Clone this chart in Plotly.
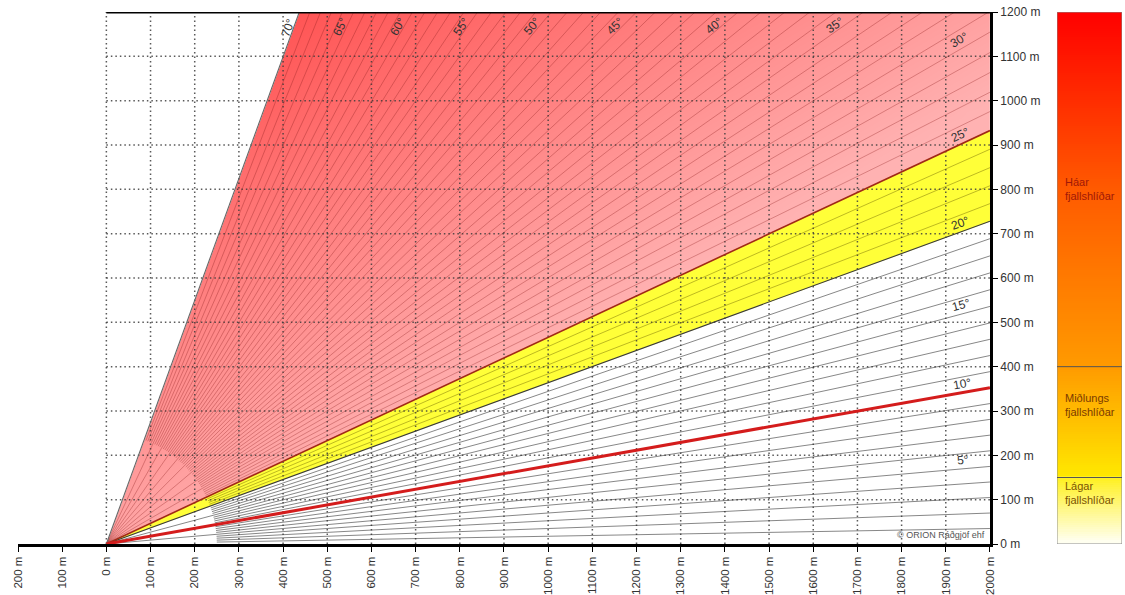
import math
import numpy as np
import plotly.graph_objects as go

# ---------------- data ----------------
x_ticks = list(range(-200, 2001, 100))
x_tick_text = [f"{abs(v)} m" for v in x_ticks]
y_ticks = list(range(0, 1201, 100))
y_tick_text = [f"{v} m" for v in y_ticks]
grid_x = list(range(0, 2000, 100))
grid_y = list(range(100, 1200, 100))
slope_angles = list(range(1, 71))                 # radial slope lines (degrees)
major_angles = list(range(5, 71, 5))              # lines drawn from the origin
top_label_angles = [70, 65, 60, 55, 50, 45, 40, 35]
side_label_angles = [30, 25, 20, 15, 10, 5]
zone_mid = (20, 25)      # yellow
zone_high = (25, 70)     # red
highlight_angle = 10
X_MAX, Y_MAX = 2000, 1200
minor_start_r = 250
legend_bounds = [0, 150, 400, 1200]
legend_names = ["Lágar<br>fjallshlíðar", "Miðlungs<br>fjallshlíðar", "Háar<br>fjallshlíðar"]
legend_label_y = [115, 313, 800]
legend_label_colors = ["#7a5200", "#7a3a00", "#a01808"]
copyright_text = "© ORION Ráðgjöf ehf"

# style: linear colour ramp of the red zone (green/blue channel level)
RAMP_C0, RAMP_CX, RAMP_CY = 165.0, 0.049, -0.085
RAMP_MIN, RAMP_MAX = 82, 178


def edge_point(deg):
    t = math.tan(math.radians(deg))
    if X_MAX * t <= Y_MAX:
        return X_MAX, X_MAX * t
    return Y_MAX / t, Y_MAX


def wedge(a1, a2):
    corner = math.degrees(math.atan2(Y_MAX, X_MAX))
    xs, ys = [0], [0]
    p = edge_point(a1); xs.append(p[0]); ys.append(p[1])
    if a1 < corner < a2:
        xs.append(X_MAX); ys.append(Y_MAX)
    p = edge_point(a2); xs.append(p[0]); ys.append(p[1])
    xs.append(0); ys.append(0)
    return xs, ys


fig = go.Figure()

# legend gradient bar (right)
lev = np.linspace(0, 1200, 241)
fig.add_trace(go.Heatmap(
    x=[0, 1], y=lev, z=[[v, v] for v in lev], xaxis="x2", yaxis="y",
    zmin=0, zmax=1200, showscale=False, hoverinfo="skip",
    colorscale=[[0, "#fffff6"], [0.06, "#fff890"], [0.125, "#fff020"],
                [0.126, "#ffe800"], [0.333, "#ff9a00"], [0.667, "#ff5a00"], [1, "#ff0000"]]))

# red zone background ramp
gxs = np.linspace(0, X_MAX, 81)
gys = np.linspace(0, Y_MAX, 49)
GX, GY = np.meshgrid(gxs, gys)
ramp = np.clip(RAMP_C0 + RAMP_CX * GX + RAMP_CY * GY, RAMP_MIN, RAMP_MAX)
fig.add_trace(go.Heatmap(
    x=gxs, y=gys, z=ramp, zmin=RAMP_MIN, zmax=RAMP_MAX, zsmooth="best", showscale=False,
    hoverinfo="skip",
    colorscale=[[0, f"rgb(255,{RAMP_MIN},{RAMP_MIN})"], [1, f"rgb(255,{RAMP_MAX},{RAMP_MAX})"]]))

# white masks outside the red zone (above the steepest line, below the yellow zone)
ex, ey = edge_point(zone_high[1])
fig.add_trace(go.Scatter(x=[0, ex, ex, -60, -60, 0], y=[0, ey, Y_MAX + 40, Y_MAX + 40, -40, 0],
                         mode="lines", fill="toself", fillcolor="white",
                         line=dict(color="white", width=1), hoverinfo="skip", showlegend=False))
ex, ey = edge_point(zone_mid[0])
fig.add_trace(go.Scatter(x=[0, ex, X_MAX + 60, X_MAX + 60, -60, -60, 0],
                         y=[0, ey, ey, -40, -40, 0, 0], mode="lines",
                         fill="toself", fillcolor="white", line=dict(color="white", width=1),
                         hoverinfo="skip", showlegend=False))
# yellow wedge
xs, ys = wedge(*zone_mid)
fig.add_trace(go.Scatter(x=xs, y=ys, mode="lines", fill="toself", fillcolor="#ffff38",
                         line=dict(color="#ffff38", width=0.6), hoverinfo="skip", showlegend=False))

# dotted grid
gx, gy = [], []
for v in grid_x:
    gx += [v, v, None]; gy += [0, Y_MAX, None]
for v in grid_y:
    gx += [0, X_MAX, None]; gy += [v, v, None]
fig.add_trace(go.Scatter(x=gx, y=gy, mode="lines", hoverinfo="skip", showlegend=False,
                         line=dict(color="rgba(60,60,60,0.85)", width=1.5, dash="1.5px,3px")))

# radial slope lines
zones = {"low": ([], [], "rgba(50,50,50,0.65)"),
         "mid": ([], [], "rgba(110,100,0,0.5)"),
         "high": ([], [], "rgba(140,30,30,0.38)")}
for a in slope_angles:
    if a in (zone_mid[0], zone_high[0], zone_high[1], highlight_angle):
        continue
    key = "low" if a < zone_mid[0] else ("mid" if a < zone_high[0] else "high")
    r0 = 0 if a in major_angles else minor_start_r
    ex, ey = edge_point(a)
    sx = r0 * math.cos(math.radians(a)); sy = r0 * math.sin(math.radians(a))
    zones[key][0].extend([sx, ex, None]); zones[key][1].extend([sy, ey, None])
for key, (lx, ly, col) in zones.items():
    fig.add_trace(go.Scatter(x=lx, y=ly, mode="lines", hoverinfo="skip", showlegend=False,
                             line=dict(color=col, width=0.9)))

# boundary & highlight lines
for a, col, w in [(zone_mid[0], "#3a3a3a", 1.1), (zone_high[0], "#a02818", 1.6),
                  (zone_high[1], "#666666", 1.1), (highlight_angle, "#d41c1c", 3)]:
    ex, ey = edge_point(a)
    fig.add_trace(go.Scatter(x=[0, ex], y=[0, ey], mode="lines", hoverinfo="skip",
                             showlegend=False, line=dict(color=col, width=w)))

# top border
fig.add_trace(go.Scatter(x=[0, X_MAX], y=[Y_MAX, Y_MAX], mode="lines", hoverinfo="skip",
                         showlegend=False, line=dict(color="black", width=3)))

annotations = []
for a in top_label_angles:
    s, c = math.sin(math.radians(a)), math.cos(math.radians(a))
    y = 1160; x = y / math.tan(math.radians(a))
    annotations.append(dict(x=x - 12 * s, y=y + 12 * c, text=f"{a}°", showarrow=False,
                            textangle=-a, font=dict(size=12, color="#333"),
                            xanchor="center", yanchor="middle"))
for a in side_label_angles:
    s, c = math.sin(math.radians(a)), math.cos(math.radians(a))
    x = 1940; y = x * math.tan(math.radians(a))
    annotations.append(dict(x=x - 20 * s, y=y + 20 * c, text=f"{a}°", showarrow=False,
                            textangle=-a, font=dict(size=12, color="#333"),
                            xanchor="center", yanchor="middle"))
annotations.append(dict(x=X_MAX, y=0, xshift=-3, yshift=2, text=copyright_text, showarrow=False,
                        xanchor="right", yanchor="bottom", font=dict(size=9, color="#555")))
for name, yy, col in zip(legend_names, legend_label_y, legend_label_colors):
    annotations.append(dict(x=0.1, y=yy, xref="x2", yref="y", text=name, showarrow=False,
                            xanchor="left", yanchor="middle", align="left",
                            font=dict(size=11, color=col)))

shapes = [dict(type="rect", xref="x2", yref="y", x0=0, x1=1, y0=legend_bounds[0],
               y1=legend_bounds[-1], line=dict(color="#8a8a8a", width=1))]
for b in legend_bounds[1:-1]:
    shapes.append(dict(type="line", xref="x2", yref="y", x0=0, x1=1, y0=b, y1=b,
                       line=dict(color="#555", width=1)))

tickfont = dict(family="Liberation Sans, Arial, sans-serif", size=12, color="#333")
xtickfont = dict(family="Liberation Sans, Arial, sans-serif", size=11.5, color="#333")
fig.update_layout(
    width=1125, height=595, margin=dict(l=18, r=3, t=12, b=51),
    paper_bgcolor="white", plot_bgcolor="white", showlegend=False,
    font=dict(family="Liberation Sans, Arial, sans-serif"),
    xaxis=dict(domain=[0, 0.8804], range=[-200, 2000], tickvals=x_ticks, ticktext=x_tick_text,
               tickangle=-90, ticks="outside", ticklen=5, tickcolor="black", tickwidth=1,
               showline=True, linewidth=3, linecolor="black", showgrid=False, zeroline=False,
               tickfont=xtickfont, anchor="y", automargin=False, layer="above traces"),
    yaxis=dict(range=[0, 1200], side="right", anchor="x", tickvals=y_ticks, ticktext=y_tick_text,
               ticks="outside", ticklen=5, tickcolor="black", tickwidth=1, showline=True,
               linewidth=3, linecolor="black", showgrid=False, zeroline=False,
               tickfont=tickfont, automargin=False, layer="above traces"),
    xaxis2=dict(domain=[0.9411, 1.0], range=[0, 1], anchor="y", visible=False),
    annotations=annotations, shapes=shapes,
)

fig.write_html("out.html", config={"displayModeBar": False},
               post_script="document.body.style.margin='0';document.body.style.overflow='hidden';")
